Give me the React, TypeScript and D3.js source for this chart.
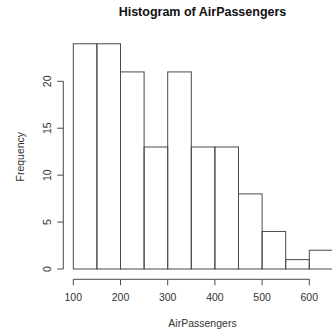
import React from "react";
import * as d3 from "d3";

const breaks = [100, 150, 200, 250, 300, 350, 400, 450, 500, 550, 600, 650];
const counts = [24, 24, 21, 13, 21, 13, 13, 8, 4, 1, 2];
const xTicks = [100, 200, 300, 400, 500, 600];
const yTicks = [0, 5, 10, 15, 20];

export default function App() {
  const W = 332, H = 330;
  const x = d3.scaleLinear().domain([100, 600]).range([73.3, 309.3]);
  const y = d3.scaleLinear().domain([0, 20]).range([269, 81.3]);
  const font = "'Liberation Sans', Arial, sans-serif";
  const stroke = "#4a4a4a";
  const bins = counts.map((c, i) => ({ x0: breaks[i], x1: breaks[i + 1], c }));
  return (
    <svg width={W} height={H} style={{ position: "absolute", left: 0, top: 0, background: "#fff" }} fontFamily={font}>
      <text x={202.5} y={15.7} textAnchor="middle" fontSize={12.5} fontWeight="bold" fill="#111">
        Histogram of AirPassengers
      </text>
      {bins.map((b, i) => (
        <rect key={i} x={x(b.x0)} y={y(b.c)} width={x(b.x1) - x(b.x0)} height={y(0) - y(b.c)}
          fill="none" stroke={stroke} strokeWidth={1} />
      ))}
      {/* y axis */}
      <line x1={63.3} x2={63.3} y1={y(0)} y2={y(20)} stroke={stroke} />
      {yTicks.map((t) => (
        <g key={t}>
          <line x1={57.3} x2={63.3} y1={y(t)} y2={y(t)} stroke={stroke} />
          <text transform={`translate(50.5,${y(t)}) rotate(-90)`} textAnchor="middle" fontSize={10.5} fill="#333">
            {t}
          </text>
        </g>
      ))}
      {/* x axis */}
      <line x1={x(100)} x2={x(600)} y1={279.3} y2={279.3} stroke={stroke} />
      {xTicks.map((t) => (
        <g key={t}>
          <line x1={x(t)} x2={x(t)} y1={279.3} y2={285.3} stroke={stroke} />
          <text x={x(t)} y={301} textAnchor="middle" fontSize={10.5} fill="#333">{t}</text>
        </g>
      ))}
      <text x={202.5} y={327} textAnchor="middle" fontSize={10.5} fill="#333">AirPassengers</text>
      <text transform="translate(24.2,156.7) rotate(-90)" textAnchor="middle" fontSize={10.5} fill="#333">Frequency</text>
    </svg>
  );
}
